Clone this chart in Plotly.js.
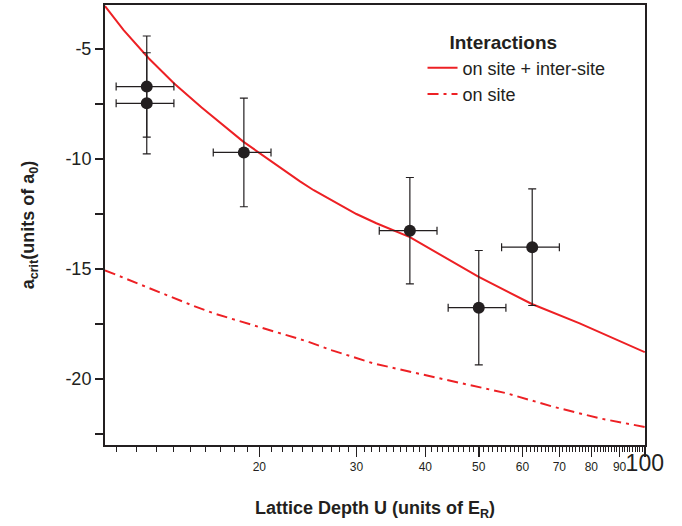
<!DOCTYPE html>
<html><head><meta charset="utf-8">
<script src="https://cdn.plot.ly/plotly-3.0.1.min.js"></script>
<style>html,body{margin:0;padding:0;background:#fff}#chart{width:682px;height:526px}</style>
</head><body><div id="chart"></div>
<script>
// Measured data points (lattice depth U, critical scattering length)
const pointU = [12.5, 12.5, 18.75, 37.5, 50, 62.5];
const pointA = [-6.71, -7.47, -9.70, -13.26, -16.76, -14.01];
const pointUErr = [1.5, 1.5, 2.25, 4.5, 6, 7.5];
const pointAErr = [2.3, 2.3, 2.47, 2.42, 2.6, 2.65];

// Theory: on site + inter-site interactions
const bothU = [10.5, 11.35, 12.6, 14.0, 15.7, 18.7, 23.7, 25.1, 30.0, 32.6, 37.5, 49.9, 62.4, 76.2, 100];
const bothA = [-3.05, -4.14, -5.42, -6.56, -7.65, -9.21, -11.02, -11.42, -12.5, -12.92, -13.55, -15.35, -16.59, -17.47, -18.78];

// Theory: on site interactions only
const onsiteU = [10.5, 12.4, 13.7, 15.1, 16.6, 18.3, 20.2, 22.3, 24.5, 27.1, 30.2, 32.2, 38.0, 46.2, 56.2, 68.2, 82.9, 100];
const onsiteA = [-15.06, -15.79, -16.24, -16.65, -17.03, -17.35, -17.67, -17.99, -18.3, -18.7, -19.08, -19.29, -19.7, -20.17, -20.65, -21.26, -21.79, -22.18];

const seriesNames = ['on site + inter-site', 'on site'];
const legendTitle = 'Interactions';

// Tick labels
const xTickVals = [20, 30, 40, 50, 60, 70, 80, 90, 100];
const xTickText = ['20', '30', '40', '50', '60', '70', '80', '90', '100'];
const yTickVals = [-5, -10, -15, -20];
const yTickText = ['-5', '-10', '-15', '-20'];
const yMinorVals = [-7.5, -12.5, -17.5, -22.5];

const xMinorVals = [];
for (let v = 11; v < 100; v++) { if (v % 10 !== 0) xMinorVals.push(v); }

const ink = '#231f20';
const red = '#ed2024';
const fam = 'Liberation Sans, Arial, Helvetica, sans-serif';

const xText = xTickText.map(t => t === '100' ? '<span style="font-size:23px">100</span>' : t);
const pad = '\u00a0'.repeat(5);

const traces = [
  {x: bothU, y: bothA, mode: 'lines', name: seriesNames[0],
   line: {color: red, width: 2}},
  {x: onsiteU, y: onsiteA, mode: 'lines', name: seriesNames[1],
   line: {color: red, width: 2, dash: '11px,5px,3px,5px'}},
  {x: pointU, y: pointA, mode: 'markers', showlegend: false,
   marker: {color: ink, size: 12},
   error_x: {type: 'data', array: pointUErr, color: ink, thickness: 1.2, width: 4},
   error_y: {type: 'data', array: pointAErr, color: ink, thickness: 1.2, width: 4}}
];

const layout = {
  width: 682, height: 526,
  margin: {l: 105, r: 37, t: 5, b: 81},
  paper_bgcolor: '#fff', plot_bgcolor: '#fff',
  font: {family: fam, color: ink},
  showlegend: true,
  xaxis: {
    type: 'log', range: [Math.log10(10.5), 2.0004],
    tickmode: 'array', tickvals: xTickVals, ticktext: xText, tickangle: 0,
    ticks: 'outside', ticklen: 10, tickwidth: 1.5, tickcolor: ink,
    tickfont: {size: 12, color: ink, family: fam},
    minor: {tickmode: 'array', tickvals: xMinorVals, ticks: 'outside', ticklen: 5, tickwidth: 1, tickcolor: ink, showgrid: false},
    showline: true, linewidth: 2, linecolor: ink, mirror: true,
    showgrid: false, zeroline: false,
    title: {text: '<b>Lattice Depth U (units of E<sub>R</sub>)</b>', font: {size: 18, color: ink, family: fam}, standoff: 26}
  },
  yaxis: {
    range: [-23, -3],
    tickmode: 'array', tickvals: yTickVals, ticktext: yTickText,
    ticks: 'outside', ticklen: 8, tickwidth: 1.5, tickcolor: ink,
    tickfont: {size: 18, color: ink, family: fam},
    minor: {tickmode: 'array', tickvals: yMinorVals, ticks: 'outside', ticklen: 8, tickwidth: 1.5, tickcolor: ink, showgrid: false},
    showline: true, linewidth: 2, linecolor: ink, mirror: true,
    showgrid: false, zeroline: false,
    title: {text: '<b>a<sub>crit</sub>(units of a<sub>0</sub>)</b>', font: {size: 18, color: ink, family: fam}, standoff: 26}
  },
  legend: {
    x: 0.588, xanchor: 'left', y: 0.955, yanchor: 'top',
    bgcolor: 'rgba(0,0,0,0)', borderwidth: 0,
    font: {size: 18, color: ink, family: fam},
    title: {text: '<b>' + legendTitle + '</b>' + pad, side: 'top center', font: {size: 19, color: ink, family: fam}},
    traceorder: 'normal'
  }
};

Plotly.newPlot('chart', traces, layout, {staticPlot: true, displayModeBar: false});
</script>
</body></html>
